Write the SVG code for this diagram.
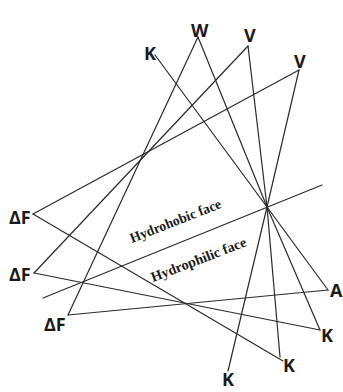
<svg xmlns="http://www.w3.org/2000/svg" width="343" height="392" viewBox="0 0 343 392">
<style>
.ln{stroke:#2a2a2a;stroke-width:1.2;fill:none;stroke-linecap:round}
.lb{font-family:"Open Sans","Liberation Sans",Arial,sans-serif;font-weight:bold;font-size:18px;fill:#1a1a1a}
.face{font-family:"Liberation Serif","Times New Roman",serif;font-weight:bold;font-size:14px;fill:#1a1a1a}
</style>
<rect width="343" height="392" fill="#ffffff"/>
<g id="connectors">
<line class="ln" x1="198" y1="37" x2="267" y2="207"/>
<line class="ln" x1="198" y1="37" x2="68" y2="315"/>
<line class="ln" x1="248" y1="46" x2="267" y2="207"/>
<line class="ln" x1="248" y1="46" x2="34" y2="273"/>
<line class="ln" x1="299" y1="70" x2="267" y2="207"/>
<line class="ln" x1="299" y1="70" x2="33" y2="214"/>
<line class="ln" x1="155" y1="55" x2="267" y2="207"/>
<line class="ln" x1="267" y1="207" x2="228" y2="371"/>
<line class="ln" x1="267" y1="207" x2="280" y2="357"/>
<line class="ln" x1="267" y1="207" x2="320" y2="330"/>
<line class="ln" x1="267" y1="207" x2="328" y2="290"/>
<line class="ln" x1="43" y1="298" x2="322" y2="185"/>
<line class="ln" x1="33" y1="214" x2="283" y2="361"/>
<line class="ln" x1="34" y1="273" x2="320" y2="330"/>
<line class="ln" x1="68" y1="315" x2="328" y2="290"/>
</g>
<g id="node-W"><text class="lb" x="191" y="37">W</text></g>
<g id="node-V1"><text class="lb" x="244" y="42">V</text></g>
<g id="node-V2"><text class="lb" x="294" y="68">V</text></g>
<g id="node-K-top"><text class="lb" x="144" y="60">K</text></g>
<g id="node-dF1"><text class="lb" x="9" y="224">ΔF</text></g>
<g id="node-dF2"><text class="lb" x="9" y="281">ΔF</text></g>
<g id="node-dF3"><text class="lb" x="44" y="331">ΔF</text></g>
<g id="node-A"><text class="lb" x="330" y="297">A</text></g>
<g id="node-K-right"><text class="lb" x="321" y="342">K</text></g>
<g id="node-K-mid"><text class="lb" x="283" y="372">K</text></g>
<g id="node-K-bottom"><text class="lb" x="222" y="386">K</text></g>
<g id="faces">
<text class="face" transform="translate(132,243) rotate(-21.5)" textLength="97" lengthAdjust="spacingAndGlyphs">Hydrohobic face</text>
<text class="face" transform="translate(153,282) rotate(-21)" textLength="101" lengthAdjust="spacingAndGlyphs">Hydrophilic face</text>
</g>
</svg>
